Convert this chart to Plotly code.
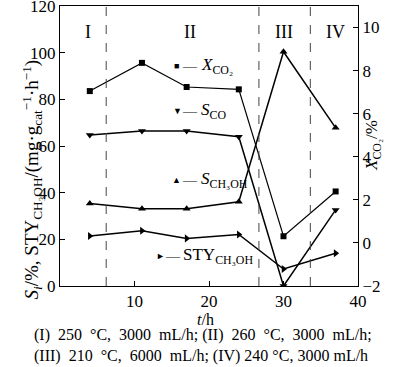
import plotly.graph_objects as go

t = [4, 11, 17, 24, 30, 37]
x_co2 = [7.05, 8.36, 7.24, 7.13, 0.31, 2.39]
s_co = [64.7, 66.4, 66.4, 64.0, 0.0, 32.6]
s_ch3oh = [35.4, 33.1, 33.1, 36.1, 100.4, 67.8]
sty_ch3oh = [21.4, 23.7, 20.4, 22.1, 7.3, 14.0]
stage_bounds = [6.2, 26.7, 33.6]
stage_labels = ["I", "II", "III", "IV"]
stage_label_x = [3.7, 17.5, 30.0, 37.0]

FONT = "Liberation Serif"
L, R, T, B, W, H = 60, 42, 6, 81, 400, 367
PW, PH = W - L - R, H - T - B


def px2paper(px, py):
    return (px - L) / PW, 1 - (py - T) / PH


fig = go.Figure()
line = dict(color="black", width=1.5)
fig.add_trace(go.Scatter(x=t, y=s_co, mode="lines+markers", line=line,
                         marker=dict(symbol="triangle-down", size=7, color="black")))
fig.add_trace(go.Scatter(x=t, y=s_ch3oh, mode="lines+markers", line=line,
                         marker=dict(symbol="triangle-up", size=7, color="black")))
fig.add_trace(go.Scatter(x=t, y=sty_ch3oh, mode="lines+markers", line=line,
                         marker=dict(symbol="triangle-right", size=7, color="black")))
fig.add_trace(go.Scatter(x=t, y=x_co2, mode="lines+markers", line=dict(color="black", width=1.2),
                         marker=dict(symbol="square", size=6, color="black"), yaxis="y2"))

for b in stage_bounds:
    fig.add_shape(type="line", x0=b, x1=b, y0=0, y1=1, xref="x", yref="paper",
                  line=dict(color="#444", width=1, dash="dash"))
for lab, lx in zip(stage_labels, stage_label_x):
    fig.add_annotation(x=lx, y=0.95, xref="x", yref="paper", text=lab, showarrow=False,
                       font=dict(family=FONT, size=18, color="black"))

legend_items = [
    ("■", 176, 66, "—", 190, "<i>X</i><sub>CO₂</sub>", 199),
    ("▼", 177, 111, "—", 190, "<i>S</i><sub>CO</sub>", 199),
    ("▲", 176, 180, "—", 190, "<i>S</i><sub>CH₃OH</sub>", 199),
    ("►", 160, 256, "—", 173, "STY<sub>CH₃OH</sub>", 181),
]
for g, gx, gy, dash, dx, txt, tx in legend_items:
    for s, sx, sz, anc in [(g, gx, 9, "center"), (dash, dx, 14, "center"), (txt, tx, 17, "left")]:
        ax, ay = px2paper(sx, gy)
        fig.add_annotation(x=ax, y=ay, xref="paper", yref="paper", text=s, showarrow=False,
                           xanchor=anc, yanchor="middle",
                           font=dict(family=FONT, size=sz, color="black"))

ax, ay = px2paper(205, 319)
fig.add_annotation(x=ax, y=ay, xref="paper", yref="paper", yanchor="middle",
                   text="<i>t</i>/h", showarrow=False, font=dict(family=FONT, size=16, color="black"))

ax, ay = px2paper(16, 180)
fig.add_annotation(x=ax, y=ay, xref="paper", yref="paper", textangle=-90,
                   text="<i>S</i><sub><i>i</i></sub>/%, STY<sub>CH₃OH</sub>/(mg·g<sub>cat</sub><sup>−1</sup>·h<sup>−1</sup>)",
                   showarrow=False, font=dict(family=FONT, size=19, color="black"))
ax, ay = px2paper(386, 146)
fig.add_annotation(x=ax, y=ay, xref="paper", yref="paper", textangle=-90,
                   text="<i>X</i><sub>CO₂</sub>/%", showarrow=False,
                   font=dict(family=FONT, size=17, color="black"))

nb = "\u00a0"
cap1 = f"(I){nb}{nb}250{nb}{nb}°C,{nb}{nb}3000{nb}{nb}mL/h;{nb}(II){nb}{nb}260{nb}{nb}°C,{nb}{nb}3000{nb}{nb}mL/h;"
cap2 = f"(III){nb}{nb}210{nb}{nb}°C,{nb}{nb}6000{nb}{nb}mL/h;{nb}(IV){nb}240{nb}°C,{nb}3000{nb}mL/h"
for cap, cy in [(cap1, 335), (cap2, 356)]:
    ax, ay = px2paper(32, cy)
    fig.add_annotation(x=ax, y=ay, xref="paper", yref="paper", xanchor="left", yanchor="middle",
                       text=cap, showarrow=False, font=dict(family=FONT, size=16, color="black"))

axis_common = dict(showline=True, linecolor="black", linewidth=1, ticks="inside", ticklen=5,
                   tickcolor="black", showgrid=False, zeroline=False, automargin=False,
                   ticklabeloverflow="allow",
                   tickfont=dict(family=FONT, size=17, color="black"))
fig.update_layout(
    width=W, height=H, margin=dict(l=L, r=R, t=T, b=B),
    paper_bgcolor="white", plot_bgcolor="white", showlegend=False,
    xaxis=dict(range=[0, 40], tickvals=[10, 20, 30, 40], mirror=True, **axis_common),
    yaxis=dict(range=[0, 120], tickvals=[0, 20, 40, 60, 80, 100, 120], **axis_common),
    yaxis2=dict(range=[-2, 11], tickvals=[-2, 0, 2, 4, 6, 8, 10], overlaying="y", side="right",
                ticktext=["−2", "0", "2", "4", "6", "8", "10"], **axis_common),
)
fig.write_html("out.html", config={"displayModeBar": False},
               post_script="document.body.style.margin='0';")
